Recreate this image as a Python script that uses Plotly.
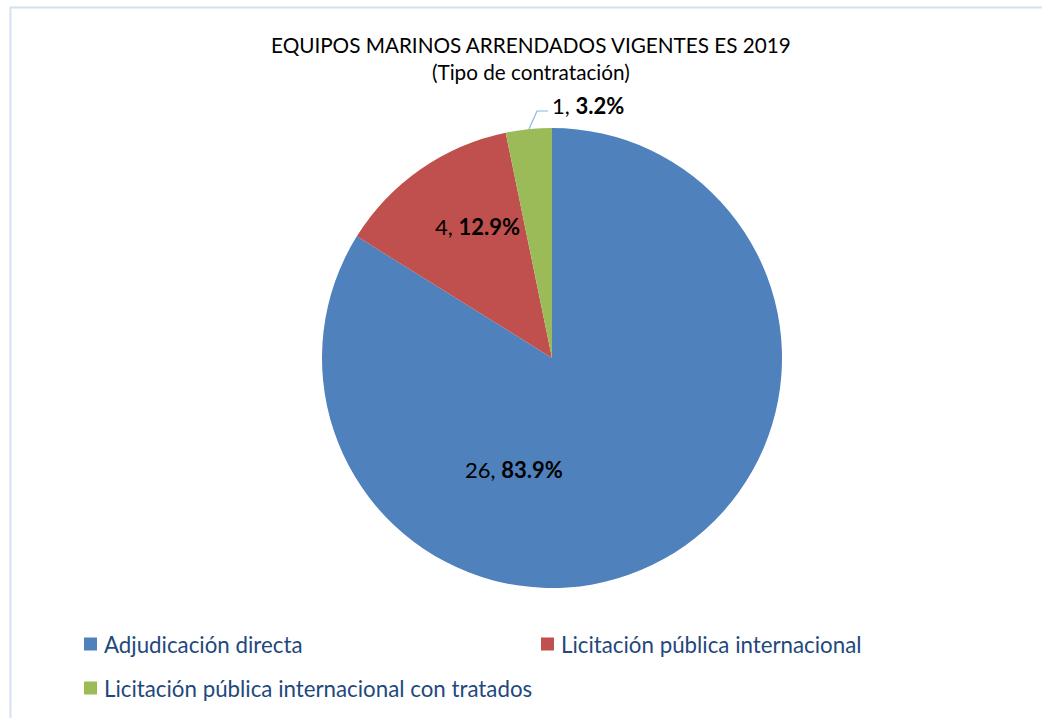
import plotly.graph_objects as go

W, H = 1042, 718
categories = ["Adjudicación directa", "Licitación pública internacional",
              "Licitación pública internacional con tratados"]
values = [26, 4, 1]
colors = ["#4F81BD", "#C0504D", "#9BBB59"]
title_lines = ["EQUIPOS MARINOS ARRENDADOS VIGENTES ES 2019", "(Tipo de contratación)"]

FONT = "Lato, sans-serif"
TITLE_SIZE = 20.7
LABEL_SIZE = 22
LEGEND_SIZE = 22.3

def px(x):
    return x / W

def py(y):
    return 1 - y / H

total = sum(values)
pcts = [v / total * 100 for v in values]
texts = [f"{v}, <b>{p:.1f}%</b>" for v, p in zip(values, pcts)]

fig = go.Figure(go.Pie(
    labels=categories, values=values, sort=False, direction="clockwise", rotation=0,
    marker=dict(colors=colors, line=dict(width=0)),
    textinfo="none", hoverinfo="label+value+percent",
    domain=dict(x=[px(322), px(782)], y=[py(588), py(128)]),
    showlegend=False,
))

# data label positions (pixel)
label_pos = [(514, 469), (477, 226), (588, 105)]
annotations = []
for t, (x, y) in zip(texts, label_pos):
    annotations.append(dict(x=px(x), y=py(y), xref="paper", yref="paper", text=t,
                            showarrow=False, font=dict(family=FONT, size=LABEL_SIZE, color="#000000"),
                            xanchor="center", yanchor="middle"))
annotations.append(dict(x=px(531), y=py(59), xref="paper", yref="paper",
                        text="<br>".join(title_lines), showarrow=False,
                        font=dict(family=FONT, size=TITLE_SIZE, color="#000000"),
                        xanchor="center", yanchor="middle"))

shapes = [
    dict(type="rect", xref="paper", yref="paper", x0=px(10.5), y0=py(7.5), x1=px(1060), y1=py(740),
         line=dict(color="#D5E1F2", width=2), fillcolor="rgba(0,0,0,0)", layer="below"),
    dict(type="path", xref="paper", yref="paper",
         path=f"M {px(529)} {py(129)} L {px(537)} {py(111)} L {px(548)} {py(111)}",
         line=dict(color="#8EB4E3", width=1.2)),
]

# custom legend (square + text), pixel positions of each entry
legend_pos = [(84, 644), (541, 644), (84, 688)]
for cat, col, (x, y) in zip(categories, colors, legend_pos):
    shapes.append(dict(type="rect", xref="paper", yref="paper",
                       x0=px(x), x1=px(x + 13), y0=py(y - 6.5), y1=py(y + 6.5),
                       fillcolor=col, line=dict(width=0)))
    annotations.append(dict(x=px(x + 18), y=py(y), xref="paper", yref="paper", text=cat,
                            showarrow=False, xanchor="left", yanchor="middle",
                            font=dict(family=FONT, size=LEGEND_SIZE, color="#1F497D")))

fig.update_layout(
    width=W, height=H, margin=dict(l=0, r=0, t=0, b=0),
    paper_bgcolor="white", plot_bgcolor="white",
    annotations=annotations, shapes=shapes,
    showlegend=False,
)

fig.write_html("out.html", config={"displayModeBar": False},
               post_script="document.body.style.margin='0';document.body.style.overflow='hidden';")
